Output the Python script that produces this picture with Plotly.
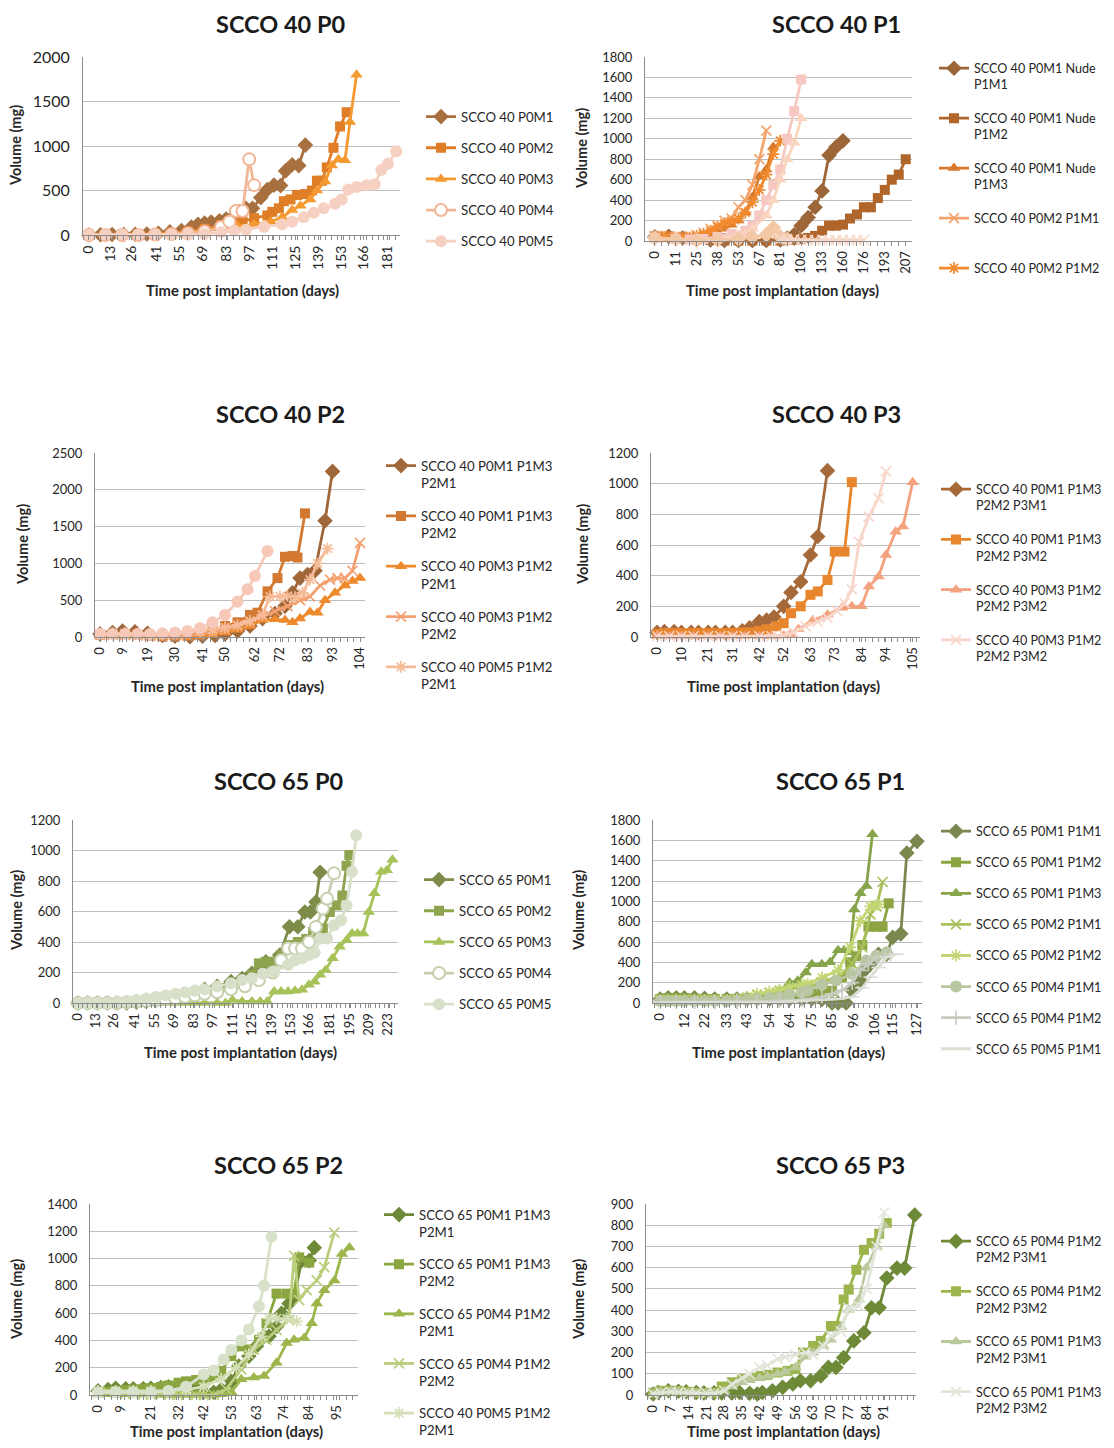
import plotly.graph_objects as go

# ======================= DATA =======================
# ---------- SCCO 40 P0 ----------
s40p0_ticks = [0, 13, 26, 41, 55, 69, 83, 97, 111, 125, 139, 153, 166, 181]
s40p0_m1_day = [0, 7, 14, 21, 28, 35, 42, 49, 56, 62, 66, 70, 74, 79, 83, 87, 91, 95, 99, 104, 108, 112, 116, 119, 123, 127, 131]
s40p0_m1_vol = [0, 2, 5, 5, 8, 12, 20, 35, 50, 90, 120, 135, 145, 160, 180, 200, 260, 300, 300, 420, 510, 560, 555, 720, 790, 780, 1010]
s40p0_m2_day = [0, 10, 20, 30, 40, 50, 60, 70, 80, 88, 93, 100, 108, 111, 115, 118, 122, 126, 131, 135, 138, 141, 144, 148, 152, 156]
s40p0_m2_vol = [0, 2, 4, 6, 10, 20, 40, 70, 110, 140, 150, 190, 220, 260, 300, 380, 400, 450, 460, 500, 610, 610, 760, 980, 1220, 1380]
s40p0_m3_day = [0, 10, 20, 30, 40, 50, 60, 70, 80, 90, 100, 110, 117, 123, 128, 134, 138, 143, 147, 151, 155, 158, 162]
s40p0_m3_vol = [0, 2, 4, 5, 8, 15, 30, 50, 70, 100, 120, 150, 200, 280, 330, 400, 500, 600, 780, 850, 840, 1270, 1800]
s40p0_m4_day = [0, 10, 20, 30, 40, 50, 60, 70, 80, 85, 89, 93, 97, 100]
s40p0_m4_vol = [0, 0, 0, 0, 5, 10, 20, 40, 90, 150, 270, 270, 850, 560]
s40p0_m5_day = [0, 10, 20, 30, 40, 50, 60, 70, 80, 88, 95, 106, 117, 123, 130, 136, 142, 149, 153, 157, 162, 168, 173, 177, 181, 186]
s40p0_m5_vol = [0, 5, 5, 5, 5, 5, 5, 10, 30, 50, 60, 90, 120, 150, 200, 250, 300, 350, 400, 510, 540, 560, 570, 730, 800, 940]

# ---------- SCCO 40 P1 (category axis: measurement days) ----------
s40p1_cat_days = [0, 4, 7, 11, 15, 20, 25, 29, 34, 38, 43, 48, 53, 57, 62, 67, 71, 76, 81, 89, 97,
                  106, 115, 124, 133, 142, 151, 160, 165, 171, 176, 182, 187, 193, 198, 202, 207]
s40p1_ticks = [0, 11, 25, 38, 53, 67, 81, 106, 133, 160, 176, 193, 207]
s40p1_a_day = [0, 7, 15, 25, 34, 43, 53, 62, 71, 81, 89, 97, 106, 115, 124, 133, 142, 151, 160]
s40p1_a_vol = [40, 45, 30, 15, 10, 5, 5, 5, 5, 10, 30, 60, 150, 230, 330, 490, 840, 920, 980]
s40p1_b_day = [0, 7, 15, 25, 34, 43, 53, 62, 71, 81, 89, 97, 106, 115, 124, 133, 142, 151, 160, 165, 171, 176, 182, 187, 193, 198, 202, 207]
s40p1_b_vol = [40, 45, 30, 15, 10, 5, 5, 5, 5, 5, 10, 10, 20, 30, 50, 100, 150, 150, 160, 220, 260, 330, 330, 420, 500, 600, 650, 800]
s40p1_c_day = [0, 4, 7, 11, 15, 20, 25, 29, 34, 38, 43, 48, 53, 57, 62, 67, 71, 76]
s40p1_c_vol = [50, 50, 45, 40, 35, 35, 40, 50, 70, 90, 120, 160, 200, 280, 430, 630, 700, 920]
s40p1_d_day = [0, 4, 7, 11, 15, 20, 25, 29, 34, 38, 43, 48, 53, 57, 62, 67, 71]
s40p1_d_vol = [50, 50, 45, 40, 40, 45, 60, 80, 120, 150, 200, 220, 330, 400, 550, 800, 1080]
s40p1_e_day = [0, 4, 7, 11, 15, 20, 25, 29, 34, 38, 43, 48, 53, 57, 62, 67, 71, 76, 81]
s40p1_e_vol = [40, 40, 35, 30, 30, 35, 50, 70, 100, 140, 170, 190, 220, 280, 380, 500, 650, 850, 980]
s40p1_f_day = [0, 11, 20, 29, 38, 48, 57, 62, 67, 71, 76, 81, 89, 97, 106]
s40p1_f_vol = [30, 20, 15, 20, 40, 70, 100, 150, 250, 400, 550, 700, 1000, 1270, 1580]
s40p1_g_day = [0, 11, 25, 38, 53, 62, 71, 76, 81, 89, 97, 106]
s40p1_g_vol = [20, 15, 10, 20, 60, 120, 250, 400, 600, 800, 960, 1200]
s40p1_h_day = [0, 11, 25, 38, 53, 62, 71, 76, 81, 89]
s40p1_h_vol = [30, 20, 10, 10, 20, 40, 60, 130, 40, 20]
s40p1_i_day = [81, 89, 97, 106, 115, 124, 133, 142, 151, 160, 165, 171, 176]
s40p1_i_vol = [20, 15, 15, 10, 10, 10, 10, 10, 10, 10, 10, 10, 10]

# ---------- SCCO 40 P2 ----------
s40p2_ticks = [0, 9, 19, 30, 41, 50, 62, 72, 83, 93, 104]
s40p2_a_day = [0, 5, 9, 14, 19, 25, 30, 36, 41, 46, 50, 55, 60, 65, 70, 74, 77, 80, 83, 86, 90, 93]
s40p2_a_vol = [40, 60, 80, 70, 50, 20, 10, 5, 10, 20, 40, 80, 150, 250, 320, 420, 600, 800, 850, 900, 1580, 2250]
s40p2_b_day = [0, 5, 10, 15, 20, 25, 30, 35, 40, 45, 50, 55, 60, 63, 67, 71, 74, 77, 79, 82]
s40p2_b_vol = [30, 40, 40, 30, 20, 10, 10, 20, 30, 80, 150, 200, 300, 330, 620, 800, 1090, 1100, 1080, 1680]
s40p2_c_day = [0, 5, 10, 15, 20, 25, 30, 35, 40, 45, 50, 55, 60, 65, 70, 74, 77, 80, 84, 87, 90, 94, 98, 101, 104]
s40p2_c_vol = [20, 20, 15, 10, 5, 0, 0, 0, 10, 30, 60, 100, 150, 230, 240, 230, 200, 250, 340, 330, 500, 600, 700, 760, 800]
s40p2_d_day = [0, 5, 10, 15, 20, 25, 30, 35, 40, 45, 50, 55, 60, 65, 70, 75, 80, 84, 88, 92, 95, 98, 101, 104]
s40p2_d_vol = [30, 30, 25, 20, 15, 10, 10, 20, 40, 60, 100, 150, 200, 280, 350, 420, 500, 550, 700, 780, 800, 800, 900, 1280]
s40p2_e_day = [0, 5, 10, 15, 20, 25, 30, 35, 40, 45, 50, 55, 60, 65, 68, 72, 75, 78, 81, 84, 87, 91]
s40p2_e_vol = [40, 50, 50, 40, 30, 30, 40, 60, 80, 100, 130, 160, 220, 300, 550, 550, 560, 540, 600, 780, 1000, 1200]
s40p2_f_day = [0, 5, 10, 15, 20, 25, 30, 35, 40, 45, 50, 55, 59, 62, 67]
s40p2_f_vol = [40, 40, 40, 40, 40, 50, 60, 80, 120, 200, 300, 480, 650, 830, 1170]

# ---------- SCCO 40 P3 ----------
s40p3_ticks = [0, 10, 21, 31, 42, 52, 63, 73, 84, 94, 105]
s40p3_a_day = [0, 3, 7, 10, 14, 17, 21, 24, 28, 31, 35, 38, 42, 45, 48, 52, 55, 59, 63, 66, 70]
s40p3_a_vol = [30, 35, 35, 30, 30, 30, 30, 30, 30, 30, 40, 60, 100, 110, 130, 200, 290, 360, 535, 655, 1085]
s40p3_b_day = [0, 3, 7, 10, 14, 17, 21, 24, 28, 31, 35, 38, 42, 45, 49, 52, 55, 59, 63, 66, 70, 73, 77, 80]
s40p3_b_vol = [20, 25, 25, 25, 25, 25, 25, 25, 25, 25, 30, 30, 40, 50, 70, 90, 155, 200, 275, 297, 372, 557, 557, 1010]
s40p3_c_day = [0, 5, 10, 15, 21, 26, 31, 36, 42, 47, 52, 55, 58, 64, 70, 76, 80, 84, 87, 91, 94, 98, 101, 105]
s40p3_c_vol = [10, 5, 5, 5, 5, 5, 5, 5, 5, 5, 10, 20, 50, 110, 145, 190, 200, 200, 330, 395, 535, 687, 720, 1010]
s40p3_d_day = [0, 5, 10, 15, 21, 26, 31, 36, 42, 47, 52, 56, 61, 66, 70, 74, 77, 80, 83, 87, 91, 94]
s40p3_d_vol = [5, 5, 5, 5, 5, 5, 5, 5, 5, 5, 10, 30, 70, 100, 125, 170, 220, 310, 620, 785, 905, 1080]

# ---------- SCCO 65 P0 ----------
s65p0_ticks = [0, 13, 26, 41, 55, 69, 83, 97, 111, 125, 139, 153, 166, 181, 195, 209, 223]
s65p0_m1_day = [0, 7, 14, 21, 28, 35, 42, 49, 56, 63, 70, 77, 84, 91, 100, 110, 118, 125, 135, 145, 152, 158, 163, 167, 171, 174]
s65p0_m1_vol = [0, 0, 0, 0, 0, 0, 5, 10, 20, 30, 40, 55, 70, 90, 110, 140, 160, 195, 270, 315, 500, 500, 597, 597, 662, 857]
s65p0_m2_day = [0, 7, 14, 21, 28, 35, 42, 49, 56, 63, 70, 77, 84, 91, 100, 110, 118, 125, 130, 135, 140, 146, 152, 158, 164, 169, 176, 181, 186, 190, 193, 195]
s65p0_m2_vol = [0, 0, 0, 0, 0, 0, 5, 10, 20, 30, 40, 50, 60, 70, 90, 120, 150, 185, 260, 270, 270, 315, 380, 400, 420, 466, 488, 597, 640, 705, 900, 970]
s65p0_m3_day = [0, 7, 14, 21, 28, 35, 42, 49, 56, 63, 70, 77, 84, 91, 100, 106, 111, 118, 125, 131, 136, 141, 146, 151, 156, 161,
                166, 170, 174, 178, 183, 188, 193, 197, 201, 205, 209, 213, 218, 222, 226]
s65p0_m3_vol = [0, 0, 0, 0, 0, 0, 0, 0, 0, 0, 0, 0, 0, 0, 0, 0, 20, 10, 10, 10, 10, 75, 75, 75, 80, 87,
                120, 140, 185, 217, 293, 369, 412, 455, 455, 455, 597, 720, 860, 870, 940]
s65p0_m4_day = [0, 7, 14, 21, 28, 35, 42, 49, 56, 63, 70, 77, 84, 91, 100, 110, 120, 130, 140, 146, 151, 156, 161, 166, 171, 176, 179, 184]
s65p0_m4_vol = [0, 0, 0, 0, 0, 5, 10, 15, 20, 25, 30, 40, 50, 60, 70, 90, 110, 150, 200, 280, 358, 358, 358, 400, 499, 618, 684, 850]
s65p0_m5_day = [0, 7, 14, 21, 28, 35, 42, 49, 56, 63, 70, 77, 84, 91, 100, 110, 118, 125, 133, 141, 151, 156, 161, 166, 170, 174, 179, 184, 189, 193, 197, 200]
s65p0_m5_vol = [0, 0, 0, 0, 5, 10, 20, 30, 40, 50, 60, 70, 80, 90, 108, 130, 150, 163, 190, 206, 250, 280, 293, 315, 330, 423, 423, 510, 543, 640, 860, 1100]

# ---------- SCCO 65 P1 ----------
s65p1_ticks = [0, 12, 22, 33, 43, 54, 64, 75, 85, 96, 106, 115, 127]
s65p1_a_day = [0, 4, 8, 12, 17, 22, 27, 33, 38, 43, 48, 54, 59, 64, 70, 75, 80, 85, 88, 92, 95, 99, 101, 104, 108, 112, 115, 119, 122, 127]
s65p1_a_vol = [40, 50, 50, 50, 50, 45, 40, 40, 40, 40, 40, 40, 40, 40, 40, 40, 35, 0, 0, 0, 124, 220, 320, 385, 480, 480, 645, 680, 1475, 1590]
s65p1_b_day = [0, 4, 8, 12, 17, 22, 27, 33, 38, 43, 48, 54, 59, 64, 70, 75, 80, 85, 90, 94, 97, 100, 103, 107, 110, 113]
s65p1_b_vol = [40, 50, 50, 50, 45, 40, 40, 40, 40, 40, 45, 50, 60, 70, 80, 90, 100, 120, 250, 400, 460, 570, 750, 750, 750, 980]
s65p1_c_day = [0, 4, 8, 12, 17, 22, 27, 33, 38, 43, 48, 54, 59, 64, 68, 72, 75, 80, 84, 88, 91, 94, 96, 99, 102, 105]
s65p1_c_vol = [40, 40, 40, 40, 40, 40, 40, 40, 45, 50, 60, 80, 124, 200, 220, 300, 380, 380, 400, 520, 520, 500, 920, 1080, 1150, 1660]
s65p1_d_day = [0, 4, 8, 12, 17, 22, 27, 33, 38, 43, 48, 54, 59, 64, 70, 73, 80, 87, 91, 95, 100, 104, 107, 110]
s65p1_d_vol = [30, 30, 30, 30, 30, 30, 30, 30, 40, 50, 80, 100, 120, 140, 150, 156, 200, 254, 300, 384, 547, 872, 950, 1190]
s65p1_e_day = [0, 4, 8, 12, 17, 22, 27, 33, 38, 43, 48, 54, 59, 64, 70, 73, 80, 88, 94, 99, 104, 106, 108]
s65p1_e_vol = [30, 30, 30, 30, 30, 30, 30, 30, 40, 60, 90, 110, 130, 160, 180, 190, 250, 320, 547, 807, 950, 950, 970]
s65p1_f_day = [0, 4, 8, 12, 17, 22, 27, 33, 38, 43, 48, 54, 59, 64, 70, 73, 80, 87, 95, 102, 107, 112]
s65p1_f_vol = [20, 20, 20, 20, 20, 20, 20, 20, 25, 30, 40, 50, 60, 80, 100, 124, 180, 220, 286, 417, 465, 498]
s65p1_g_day = [0, 8, 17, 27, 38, 48, 59, 70, 80, 85, 90, 95, 99, 103, 107, 111, 114]
s65p1_g_vol = [10, 10, 10, 10, 10, 10, 20, 30, 60, 90, 124, 200, 320, 380, 450, 460, 480]
s65p1_h_day = [0, 8, 17, 27, 38, 48, 59, 70, 80, 88, 95, 100, 104, 108, 112, 117]
s65p1_h_vol = [5, 5, 5, 5, 5, 5, 10, 20, 30, 40, 60, 150, 254, 350, 450, 480]

# ---------- SCCO 65 P2 ----------
s65p2_ticks = [0, 9, 21, 32, 42, 53, 63, 74, 84, 95]
s65p2_a_day = [0, 4, 7, 11, 14, 18, 21, 25, 28, 32, 35, 39, 42, 46, 49, 53, 56, 60, 63, 66, 68, 71, 73, 76, 78, 81, 84, 86]
s65p2_a_vol = [30, 40, 50, 45, 45, 45, 50, 55, 60, 60, 60, 40, 20, 20, 40, 100, 212, 285, 357, 430, 430, 502, 599, 671, 719, 985, 985, 1080]
s65p2_b_day = [0, 4, 7, 11, 14, 18, 21, 25, 28, 32, 35, 39, 42, 46, 49, 53, 57, 60, 64, 67, 71, 75, 78, 80, 84]
s65p2_b_vol = [20, 25, 30, 35, 40, 45, 50, 60, 70, 90, 100, 110, 120, 130, 176, 285, 357, 333, 405, 526, 743, 743, 743, 1009, 970]
s65p2_c_day = [0, 4, 7, 11, 14, 18, 21, 25, 28, 32, 35, 39, 42, 46, 49, 53, 57, 62, 66, 71, 75, 78, 82, 85, 87, 90, 94, 97, 100]
s65p2_c_vol = [10, 10, 5, 5, 5, 5, 5, 0, 0, 0, 0, 0, 0, 0, 5, 20, 116, 128, 140, 236, 381, 405, 418, 526, 671, 768, 840, 1033, 1081]
s65p2_d_day = [0, 4, 7, 11, 14, 18, 21, 25, 28, 32, 35, 39, 42, 46, 51, 57, 62, 67, 71, 76, 78, 80, 83, 87, 90, 94]
s65p2_d_vol = [20, 20, 15, 10, 10, 5, 5, 5, 0, 0, 0, 0, 0, 0, 43, 188, 333, 405, 478, 550, 1020, 695, 768, 840, 937, 1190]
s65p2_e_day = [0, 7, 14, 21, 28, 35, 42, 49, 55, 60, 65, 68, 71, 75, 79]
s65p2_e_vol = [30, 30, 30, 30, 30, 40, 60, 120, 200, 300, 430, 560, 560, 560, 540]
s65p2_f_day = [0, 7, 14, 21, 28, 35, 42, 46, 50, 53, 57, 60, 64, 66, 69]
s65p2_f_vol = [20, 20, 20, 20, 30, 60, 150, 180, 260, 330, 400, 480, 650, 800, 1160]

# ---------- SCCO 65 P3 ----------
s65p3_ticks = [0, 7, 14, 21, 28, 35, 42, 49, 56, 63, 70, 77, 84, 91]
s65p3_a_day = [0, 2, 6, 10, 13, 17, 20, 24, 27, 31, 34, 38, 41, 43, 47, 51, 55, 58, 62, 66, 69, 72, 75, 79, 83, 86, 89, 92, 96, 99, 103]
s65p3_a_vol = [5, 12, 20, 18, 15, 12, 10, 10, 10, 10, 12, 8, 5, 12, 20, 36, 52, 67, 67, 90, 130, 130, 176, 255, 293, 411, 411, 551, 598, 598, 848]
s65p3_b_day = [0, 3, 7, 10, 14, 17, 21, 24, 27, 31, 35, 38, 42, 45, 49, 53, 56, 59, 63, 66, 70, 72, 75, 77, 80, 83, 86, 89, 92]
s65p3_b_vol = [10, 20, 20, 18, 15, 10, 10, 10, 40, 60, 75, 80, 90, 95, 106, 114, 122, 200, 231, 255, 325, 325, 450, 497, 590, 684, 716, 760, 810]
s65p3_c_day = [0, 3, 7, 10, 14, 17, 21, 24, 28, 31, 35, 38, 42, 45, 49, 52, 56, 60, 63, 67, 70, 74, 77, 81, 84, 88, 91]
s65p3_c_vol = [5, 15, 20, 18, 12, 10, 10, 10, 20, 40, 60, 70, 80, 90, 100, 110, 130, 180, 200, 230, 260, 320, 400, 450, 600, 700, 800]
s65p3_d_day = [0, 3, 7, 10, 14, 17, 21, 24, 28, 31, 35, 38, 42, 45, 49, 52, 56, 60, 63, 67, 70, 74, 77, 81, 84, 88, 91]
s65p3_d_vol = [5, 10, 15, 12, 10, 8, 8, 8, 20, 50, 80, 100, 130, 140, 170, 180, 190, 200, 190, 230, 280, 300, 410, 420, 500, 700, 860]

# ======================= STYLE / LAYOUT =======================
FONT = "Lato"
TXT = "#262626"
OFF = 8                          # default page body margin
FW, FH = 1106, 1432


def px(x):
    return (x - OFF) / FW


def py(y):
    return 1 - (y - OFF) / FH


def marker(sym, color):
    base = dict(color=color, line=dict(width=0))
    if sym == "diamond":
        return dict(base, symbol="diamond", size=12)
    if sym == "square":
        return dict(base, symbol="square", size=10)
    if sym == "triangle":
        return dict(base, symbol="triangle-up", size=11)
    if sym == "circle":
        return dict(base, symbol="circle", size=12)
    if sym == "ocircle":
        return dict(symbol="circle", size=12, color="white", line=dict(color=color, width=2))
    opens = {"x": "x-thin-open", "star": "asterisk-open", "plus": "cross-thin-open", "dash": "line-ew-open"}
    return dict(symbol=opens[sym], size=10, color=color, line=dict(color=color, width=1.7))


panels = [
    dict(title="SCCO 40 P0", tcy=24, tcx=280, box=(83, 400, 57, 235), ymax=2000, ydt=500,
         xr=(-3.6, 188.3), ticks=s40p0_ticks, minor=3.5, ytf=16, xtf=14,
         leg=(461, 117), lf=13.2, gap=11, ytit=(16, 146), xtit=(242, 290),
         series=[
             ("SCCO 40 P0M1", s40p0_m1_day, s40p0_m1_vol, "#A9703F", "diamond", True),
             ("SCCO 40 P0M2", s40p0_m2_day, s40p0_m2_vol, "#E07E28", "square", True),
             ("SCCO 40 P0M3", s40p0_m3_day, s40p0_m3_vol, "#F59A30", "triangle", True),
             ("SCCO 40 P0M4", s40p0_m4_day, s40p0_m4_vol, "#F2B696", "ocircle", True),
             ("SCCO 40 P0M5", s40p0_m5_day, s40p0_m5_vol, "#F6D0C0", "circle", True),
         ]),
    dict(title="SCCO 40 P1", tcy=24, tcx=836, box=(645, 912, 57, 241), ymax=1800, ydt=200,
         cats=s40p1_cat_days, ticks=s40p1_ticks, ytf=13, xtf=13,
         leg=(974, 69), lf=12.6, gap=14.2, ytit=(582, 149), xtit=(782, 290),
         series=[
             ("SCCO 40 P0M1 Nude<br>P1M1", s40p1_a_day, s40p1_a_vol, "#9C6638", "diamond", True),
             ("SCCO 40 P0M1 Nude<br>P1M2", s40p1_b_day, s40p1_b_vol, "#B0662A", "square", True),
             ("SCCO 40 P0M1 Nude<br>P1M3", s40p1_c_day, s40p1_c_vol, "#D7782A", "triangle", True),
             ("SCCO 40 P0M2 P1M1<br>\u00a0", s40p1_d_day, s40p1_d_vol, "#F3A46C", "x", True),
             ("SCCO 40 P0M2 P1M2", s40p1_e_day, s40p1_e_vol, "#F18A2E", "star", True),
             ("extra1", s40p1_f_day, s40p1_f_vol, "#F7C8C2", "square", False),
             ("extra2", s40p1_g_day, s40p1_g_vol, "#F9D4BE", "triangle", False),
             ("extra3", s40p1_h_day, s40p1_h_vol, "#F2C8A6", "diamond", False),
             ("extra4", s40p1_i_day, s40p1_i_vol, "#F8D8C8", "x", False),
         ]),
    dict(title="SCCO 40 P2", tcy=414, tcx=280, box=(95, 365, 453, 637), ymax=2500, ydt=500,
         xr=(-2, 106), ticks=s40p2_ticks, minor=2.6, ytf=13, xtf=13,
         leg=(421, 466), lf=13.2, gap=13, ytit=(22, 545), xtit=(227, 686),
         series=[
             ("SCCO 40 P0M1 P1M3<br>P2M1", s40p2_a_day, s40p2_a_vol, "#A0683A", "diamond", True),
             ("SCCO 40 P0M1 P1M3<br>P2M2", s40p2_b_day, s40p2_b_vol, "#D27830", "square", True),
             ("SCCO 40 P0M3 P1M2<br>P2M1", s40p2_c_day, s40p2_c_vol, "#EE8A2C", "triangle", True),
             ("SCCO 40 P0M3 P1M2<br>P2M2", s40p2_d_day, s40p2_d_vol, "#F4A070", "x", True),
             ("SCCO 40 P0M5 P1M2<br>P2M1", s40p2_e_day, s40p2_e_vol, "#F6BC98", "star", True),
             ("extra", s40p2_f_day, s40p2_f_vol, "#F7C8B8", "circle", False),
         ]),
    dict(title="SCCO 40 P3", tcy=414, tcx=836, box=(651, 920, 453, 637), ymax=1200, ydt=200,
         xr=(-2.5, 108), ticks=s40p3_ticks, minor=2.6, ytf=13, xtf=13,
         leg=(976, 490), lf=12.6, gap=14.5, ytit=(582, 545), xtit=(784, 686),
         series=[
             ("SCCO 40 P0M1 P1M3<br>P2M2 P3M1", s40p3_a_day, s40p3_a_vol, "#A66A3A", "diamond", True),
             ("SCCO 40 P0M1 P1M3<br>P2M2 P3M2", s40p3_b_day, s40p3_b_vol, "#E8862E", "square", True),
             ("SCCO 40 P0M3 P1M2<br>P2M2 P3M2", s40p3_c_day, s40p3_c_vol, "#F4A27E", "triangle", True),
             ("SCCO 40 P0M3 P1M2<br>P2M2 P3M2", s40p3_d_day, s40p3_d_vol, "#F8D6CA", "x", True),
         ]),
    dict(title="SCCO 65 P0", tcy=781, tcx=278, box=(73, 398, 820, 1003), ymax=1200, ydt=200,
         xr=(-3.6, 230), ticks=s65p0_ticks, minor=3.5, ytf=13, xtf=13,
         leg=(459, 880), lf=13.2, gap=11, ytit=(16, 911), xtit=(240, 1052),
         series=[
             ("SCCO 65 P0M1", s65p0_m1_day, s65p0_m1_vol, "#7E8C4A", "diamond", True),
             ("SCCO 65 P0M2", s65p0_m2_day, s65p0_m2_vol, "#8EA44E", "square", True),
             ("SCCO 65 P0M3", s65p0_m3_day, s65p0_m3_vol, "#A8C25A", "triangle", True),
             ("SCCO 65 P0M4", s65p0_m4_day, s65p0_m4_vol, "#C6D0AE", "ocircle", True),
             ("SCCO 65 P0M5", s65p0_m5_day, s65p0_m5_vol, "#D8E0CA", "circle", True),
         ]),
    dict(title="SCCO 65 P1", tcy=781, tcx=840, box=(653, 922, 820, 1003), ymax=1800, ydt=200,
         xr=(-3.5, 129.5), ticks=s65p1_ticks, minor=2.65, ytf=13, xtf=13,
         leg=(976, 832), lf=12.6, gap=11.7, ytit=(578, 911), xtit=(788, 1052),
         series=[
             ("SCCO 65 P0M1 P1M1", s65p1_a_day, s65p1_a_vol, "#7A8850", "diamond", True),
             ("SCCO 65 P0M1 P1M2", s65p1_b_day, s65p1_b_vol, "#8CA442", "square", True),
             ("SCCO 65 P0M1 P1M3", s65p1_c_day, s65p1_c_vol, "#86A44A", "triangle", True),
             ("SCCO 65 P0M2 P1M1", s65p1_d_day, s65p1_d_vol, "#A8C05C", "x", True),
             ("SCCO 65 P0M2 P1M2", s65p1_e_day, s65p1_e_vol, "#C4D674", "star", True),
             ("SCCO 65 P0M4 P1M1", s65p1_f_day, s65p1_f_vol, "#B8C6A2", "circle", True),
             ("SCCO 65 P0M4 P1M2", s65p1_g_day, s65p1_g_vol, "#C8CCC0", "plus", True),
             ("SCCO 65 P0M5 P1M1", s65p1_h_day, s65p1_h_vol, "#DADED4", "dash", True),
         ]),
    dict(title="SCCO 65 P2", tcy=1165, tcx=278, box=(90, 358, 1204, 1395), ymax=1400, ydt=200,
         xr=(-3.2, 103.4), ticks=s65p2_ticks, minor=2.6, ytf=13, xtf=13,
         leg=(419, 1215), lf=13.2, gap=12.3, ytit=(16, 1300), xtit=(226, 1431),
         series=[
             ("SCCO 65 P0M1 P1M3<br>P2M1", s65p2_a_day, s65p2_a_vol, "#6E8A38", "diamond", True),
             ("SCCO 65 P0M1 P1M3<br>P2M2", s65p2_b_day, s65p2_b_vol, "#8AA640", "square", True),
             ("SCCO 65 P0M4 P1M2<br>P2M1", s65p2_c_day, s65p2_c_vol, "#9DB64C", "triangle", True),
             ("SCCO 65 P0M4 P1M2<br>P2M2", s65p2_d_day, s65p2_d_vol, "#BACD7C", "x", True),
             ("SCCO 40 P0M5 P1M2<br>P2M1", s65p2_e_day, s65p2_e_vol, "#D4DFB6", "star", True),
             ("extra", s65p2_f_day, s65p2_f_vol, "#D8E2CA", "circle", False),
         ]),
    dict(title="SCCO 65 P3", tcy=1165, tcx=840, box=(646, 916, 1204, 1395), ymax=900, ydt=100,
         xr=(-2.8, 103.5), ticks=s65p3_ticks, minor=2.33, ytf=13, xtf=13,
         leg=(976, 1242), lf=12.6, gap=14.4, ytit=(578, 1300), xtit=(784, 1431),
         series=[
             ("SCCO 65 P0M4 P1M2<br>P2M2 P3M1", s65p3_a_day, s65p3_a_vol, "#6E8A38", "diamond", True),
             ("SCCO 65 P0M4 P1M2<br>P2M2 P3M2", s65p3_b_day, s65p3_b_vol, "#9CB44C", "square", True),
             ("SCCO 65 P0M1 P1M3<br>P2M2 P3M1", s65p3_c_day, s65p3_c_vol, "#BAC99C", "triangle", True),
             ("SCCO 65 P0M1 P1M3<br>P2M2 P3M2", s65p3_d_day, s65p3_d_vol, "#E2E6DA", "x", True),
         ]),
]

fig = go.Figure()
layout = dict(
    width=FW, height=FH, margin=dict(l=0, r=0, t=0, b=0, autoexpand=False),
    paper_bgcolor="white", plot_bgcolor="white",
    font=dict(family=FONT, color=TXT, size=13),
    annotations=[],
)

for i, p in enumerate(panels, start=1):
    sfx = "" if i == 1 else str(i)
    xa, ya, lg = "x" + sfx, "y" + sfx, "legend" + sfx
    x0, x1, y0, y1 = p["box"]
    is_cat = "cats" in p

    for j, (name, days, vols, color, sym, show) in enumerate(p["series"]):
        xs = [str(d) for d in days] if is_cat else days
        fig.add_trace(go.Scatter(
            x=xs, y=vols, mode="lines+markers", name=name,
            line=dict(color=color, width=2.8), marker=marker(sym, color),
            xaxis=xa, yaxis=ya, legend=lg, legendgroup=f"p{i}s{j}",
            showlegend=show, cliponaxis=False, hoverinfo="skip",
        ))

    xaxis = dict(
        domain=[px(x0), px(x1)], anchor=ya, showgrid=False, zeroline=False, automargin=False,
        showline=True, linecolor="#8C8C8C", linewidth=1,
        ticks="outside", ticklen=4, tickcolor="#8C8C8C", tickangle=-90,
        tickfont=dict(family=FONT, size=p["xtf"], color=TXT),
    )
    if is_cat:
        cats = [str(d) for d in p["cats"]]
        labels = set(p["ticks"])
        xaxis.update(type="category", categoryorder="array", categoryarray=cats,
                     range=[-1.4, len(cats) - 0.1], tickmode="array", tickvals=cats,
                     ticktext=[str(d) if d in labels else "" for d in p["cats"]])
    else:
        xaxis.update(type="linear", range=list(p["xr"]), tickmode="array",
                     tickvals=p["ticks"], ticktext=[str(t) for t in p["ticks"]],
                     minor=dict(dtick=p["minor"], tick0=0, ticks="outside", ticklen=4,
                                tickcolor="#8C8C8C", showgrid=False))
    yaxis = dict(
        domain=[py(y1), py(y0)], anchor=xa, range=[0, p["ymax"]], dtick=p["ydt"],
        showgrid=True, gridcolor="#BEBEBE", gridwidth=1, zeroline=False, automargin=False,
        showline=True, linecolor="#8C8C8C", linewidth=1, ticks="",
        ticklabelstandoff=9,
        tickfont=dict(family=FONT, size=p["ytf"], color=TXT),
    )
    layout["xaxis" + sfx] = xaxis
    layout["yaxis" + sfx] = yaxis

    lx, ly = p["leg"]
    layout[lg] = dict(
        x=px(lx - 40), y=py(ly - 15.5), xanchor="left", yanchor="top",
        bgcolor="rgba(0,0,0,0)", borderwidth=0, valign="top",
        font=dict(family=FONT, size=p["lf"], color=TXT), tracegroupgap=p["gap"],
        itemclick=False, itemdoubleclick=False,
    )

    layout["annotations"] += [
        dict(text=f"<b>{p['title']}</b>", x=px(p["tcx"]), y=py(p["tcy"]), xref="paper", yref="paper",
             showarrow=False, xanchor="center", yanchor="middle",
             font=dict(family=FONT, size=23.5, color="#1A1A1A")),
        dict(text="<b>Volume (mg)</b>", x=px(p["ytit"][0]), y=py(p["ytit"][1]), xref="paper", yref="paper",
             showarrow=False, textangle=-90, xanchor="center", yanchor="middle",
             font=dict(family=FONT, size=14.5, color=TXT)),
        dict(text="<b>Time post implantation (days)</b>", x=px(p["xtit"][0]), y=py(p["xtit"][1]),
             xref="paper", yref="paper", showarrow=False, xanchor="center", yanchor="middle",
             font=dict(family=FONT, size=14.8, color=TXT)),
    ]

fig.update_layout(**layout)
fig.write_html("out.html")
